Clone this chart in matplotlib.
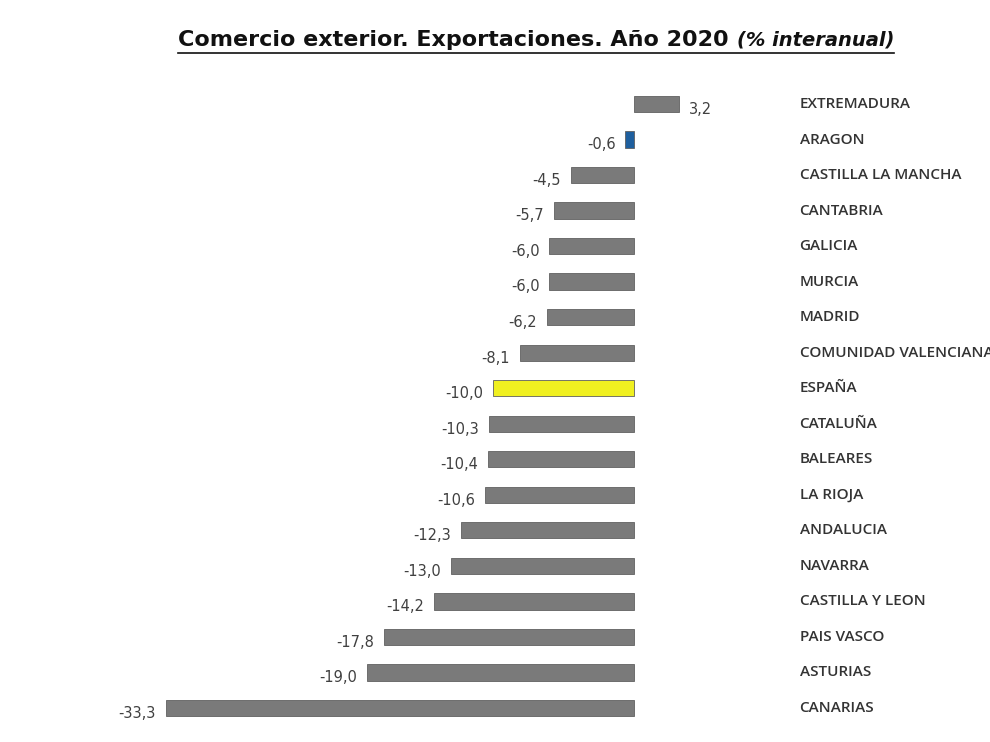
import matplotlib
matplotlib.use("Agg")
import matplotlib.pyplot as plt

regions = ["EXTREMADURA", "ARAGON", "CASTILLA LA MANCHA", "CANTABRIA", "GALICIA", "MURCIA",
           "MADRID", "COMUNIDAD VALENCIANA", "ESPAÑA", "CATALUÑA", "BALEARES", "LA RIOJA",
           "ANDALUCIA", "NAVARRA", "CASTILLA Y LEON", "PAIS VASCO", "ASTURIAS", "CANARIAS"]
values = [3.2, -0.6, -4.5, -5.7, -6.0, -6.0, -6.2, -8.1, -10.0, -10.3, -10.4, -10.6,
          -12.3, -13.0, -14.2, -17.8, -19.0, -33.3]
labels = ["3,2", "-0,6", "-4,5", "-5,7", "-6,0", "-6,0", "-6,2", "-8,1", "-10,0", "-10,3",
          "-10,4", "-10,6", "-12,3", "-13,0", "-14,2", "-17,8", "-19,0", "-33,3"]

colors = []
for r in regions:
    if r == "ARAGON":
        colors.append("#1f5f9e")
    elif r == "ESPAÑA":
        colors.append("#f0f020")
    else:
        colors.append("#7a7a7a")

fig = plt.figure(figsize=(9.9, 7.42), dpi=100)
ax = fig.add_axes([0, 0, 1, 1])
ax.set_xlim(-45.1, 25.35)
ax.set_ylim(17.96, -2.93)
ax.axis("off")

ys = list(range(len(regions)))
ax.barh(ys, values, height=0.46, color=colors, edgecolor="#606060", linewidth=0.6)

for y, v, lab, r in zip(ys, values, labels, regions):
    if v >= 0:
        ax.text(v + 0.7, y + 0.15, lab, ha="left", va="center", fontsize=10.5, color="#404040")
    else:
        ax.text(v - 0.7, y + 0.15, lab, ha="right", va="center", fontsize=10.5, color="#404040")
    ax.text(11.8, y, r, ha="left", va="center", fontsize=11, color="#333333",
            fontweight="semibold", fontfamily="Open Sans")

t1 = fig.text(0.18, 0.946, "Comercio exterior. Exportaciones. Año 2020 ", fontsize=16,
              fontweight="bold", color="#111111", ha="left", va="center")
fig.canvas.draw()
r = fig.canvas.get_renderer()
bb = t1.get_window_extent(r)
x2 = bb.x1 / fig.bbox.width
t2 = fig.text(x2, 0.946, "(% interanual)", fontsize=14, fontstyle="italic",
              fontweight="bold", color="#111111", ha="left", va="center")
bb2 = t2.get_window_extent(r)
yl = bb.y0 / fig.bbox.height - 0.004
fig.add_artist(plt.Line2D([bb.x0 / fig.bbox.width, bb2.x1 / fig.bbox.width], [yl, yl],
                          color="#111111", linewidth=1.2, transform=fig.transFigure))

fig.savefig("out.png", dpi=100)
